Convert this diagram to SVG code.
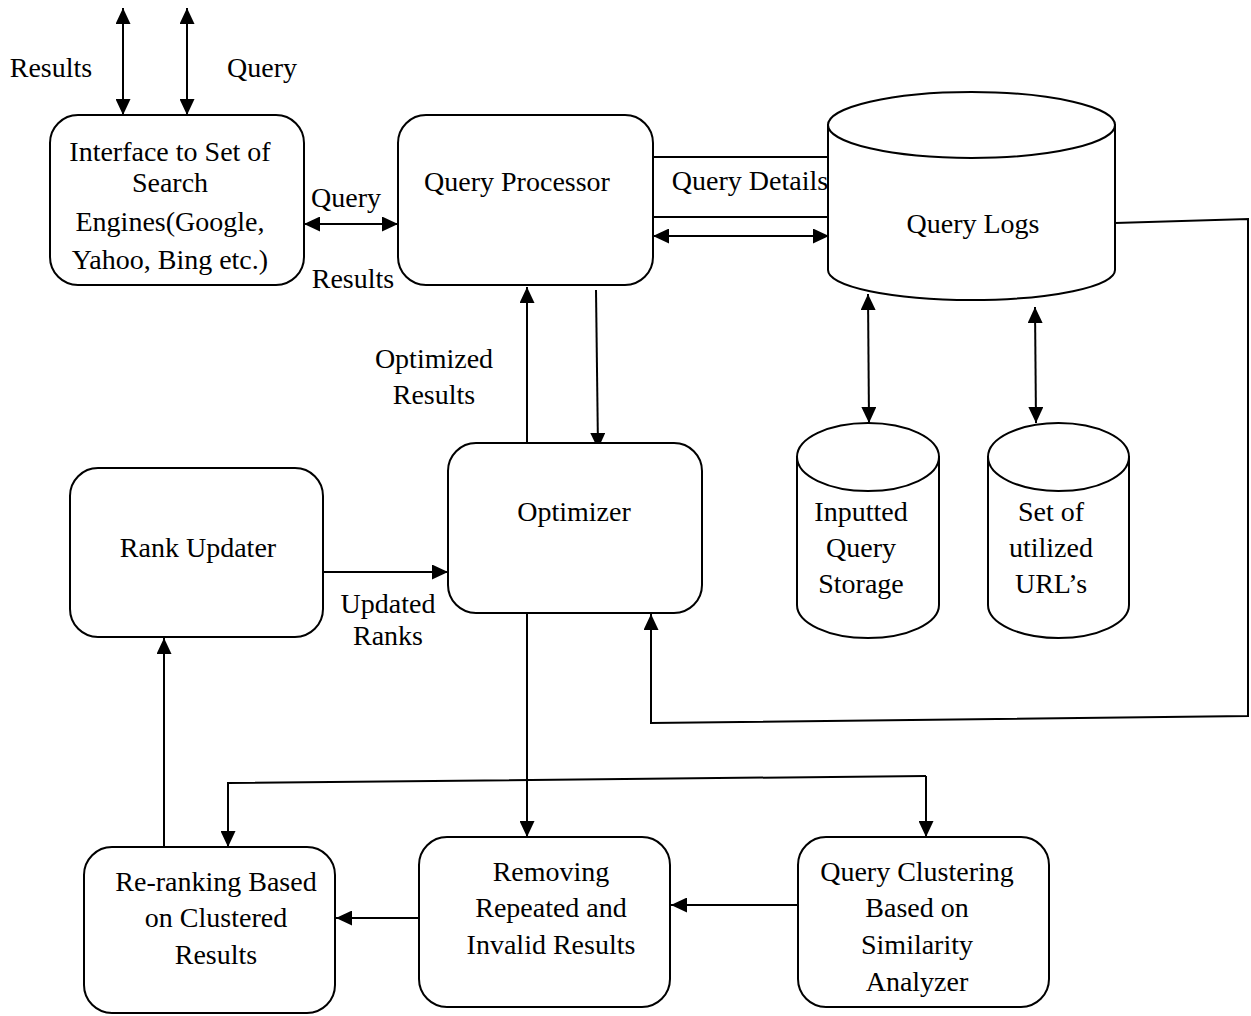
<svg xmlns="http://www.w3.org/2000/svg" width="1251" height="1016" viewBox="0 0 1251 1016">
<style>
.box{fill:#fff;stroke:#000;stroke-width:2}
.cyl{fill:#fff;stroke:#000;stroke-width:2}
text{font-family:"Liberation Serif","Times New Roman",serif;font-size:28px;fill:#000;text-anchor:middle}
.ln{fill:none;stroke:#000;stroke-width:2}
.a{marker-end:url(#ah)}
.aa{marker-start:url(#ahs);marker-end:url(#ah)}
</style>
<defs>
<marker id="ah" markerUnits="userSpaceOnUse" markerWidth="17" markerHeight="15" refX="16" refY="7.5" orient="auto"><path d="M0,0 L16,7.5 L0,15 Z" fill="#000"/></marker>
<marker id="ahs" markerUnits="userSpaceOnUse" markerWidth="17" markerHeight="15" refX="0" refY="7.5" orient="auto"><path d="M16,0 L0,7.5 L16,15 Z" fill="#000"/></marker>
</defs>
<rect width="1251" height="1016" fill="#fff"/>

<g id="connectors">
<line class="ln aa" x1="123" y1="8" x2="123" y2="115"/>
<line class="ln aa" x1="187" y1="8" x2="187" y2="115"/>
<line class="ln aa" x1="304" y1="224" x2="398" y2="224"/>
<line class="ln" x1="653" y1="157" x2="829" y2="157"/>
<line class="ln" x1="653" y1="217" x2="829" y2="217"/>
<line class="ln aa" x1="653" y1="236" x2="829" y2="236"/>
<line class="ln a" x1="527" y1="443" x2="527" y2="287"/>
<line class="ln a" x1="596" y1="290" x2="598" y2="449"/>
<line class="ln a" x1="323" y1="572" x2="448" y2="572"/>
<line class="ln a" x1="527" y1="613" x2="527" y2="837"/>
<line class="ln aa" x1="868" y1="294" x2="869" y2="423"/>
<line class="ln aa" x1="1035" y1="307" x2="1036" y2="423"/>
<polyline class="ln a" points="1115,223 1248,219 1248,716 651,723 651,614"/>
<line class="ln a" x1="164" y1="847" x2="164" y2="638"/>
<polyline class="ln a" points="926,776 926,837"/>
<polyline class="ln a" points="926,776 228,783 228,847"/>
<line class="ln a" x1="798" y1="905" x2="671" y2="905"/>
<line class="ln a" x1="419" y1="918" x2="336" y2="918"/>
<text x="51" y="77">Results</text>
<text x="262" y="77">Query</text>
<text x="346" y="207">Query</text>
<text x="353" y="288">Results</text>
<text x="750" y="190">Query Details</text>
<text x="434" y="368">Optimized</text>
<text x="434" y="404">Results</text>
<text x="388" y="613">Updated</text>
<text x="388" y="645">Ranks</text>
</g>

<g id="interface">
<rect class="box" x="50" y="115" width="254" height="170" rx="28"/>
<text x="170" y="161">Interface to Set of</text>
<text x="170" y="192">Search</text>
<text x="170" y="231">Engines(Google,</text>
<text x="170" y="269">Yahoo, Bing etc.)</text>
</g>

<g id="query-processor">
<rect class="box" x="398" y="115" width="255" height="170" rx="28"/>
<text x="517" y="191">Query Processor</text>
</g>

<g id="query-logs">
<path class="cyl" d="M828,125 L828,270 A143.5,30 0 0,0 1115,270 L1115,125 Z"/>
<ellipse class="cyl" cx="971.5" cy="125" rx="143.5" ry="33"/>
<text x="973" y="233">Query Logs</text>
</g>

<g id="inputted-query-storage">
<path class="cyl" d="M797,457 L797,605 A71,33 0 0,0 939,605 L939,457 Z"/>
<ellipse class="cyl" cx="868" cy="457" rx="71" ry="34"/>
<text x="861" y="521">Inputted</text>
<text x="861" y="557">Query</text>
<text x="861" y="593">Storage</text>
</g>

<g id="utilized-urls">
<path class="cyl" d="M988,457 L988,605 A70.5,33 0 0,0 1129,605 L1129,457 Z"/>
<ellipse class="cyl" cx="1058.5" cy="457" rx="70.5" ry="34"/>
<text x="1051" y="521">Set of</text>
<text x="1051" y="557">utilized</text>
<text x="1051" y="593">URL’s</text>
</g>

<g id="optimizer">
<rect class="box" x="448" y="443" width="254" height="170" rx="28"/>
<text x="574" y="521">Optimizer</text>
</g>

<g id="rank-updater">
<rect class="box" x="70" y="468" width="253" height="169" rx="28"/>
<text x="198" y="557">Rank Updater</text>
</g>

<g id="re-ranking">
<rect class="box" x="84" y="847" width="251" height="166" rx="28"/>
<text x="216" y="891">Re-ranking Based</text>
<text x="216" y="927">on Clustered</text>
<text x="216" y="964">Results</text>
</g>

<g id="removing">
<rect class="box" x="419" y="837" width="251" height="170" rx="28"/>
<text x="551" y="881">Removing</text>
<text x="551" y="917">Repeated and</text>
<text x="551" y="954">Invalid Results</text>
</g>

<g id="query-clustering">
<rect class="box" x="798" y="837" width="251" height="170" rx="28"/>
<text x="917" y="881">Query Clustering</text>
<text x="917" y="917">Based on</text>
<text x="917" y="954">Similarity</text>
<text x="917" y="991">Analyzer</text>
</g>
</svg>
